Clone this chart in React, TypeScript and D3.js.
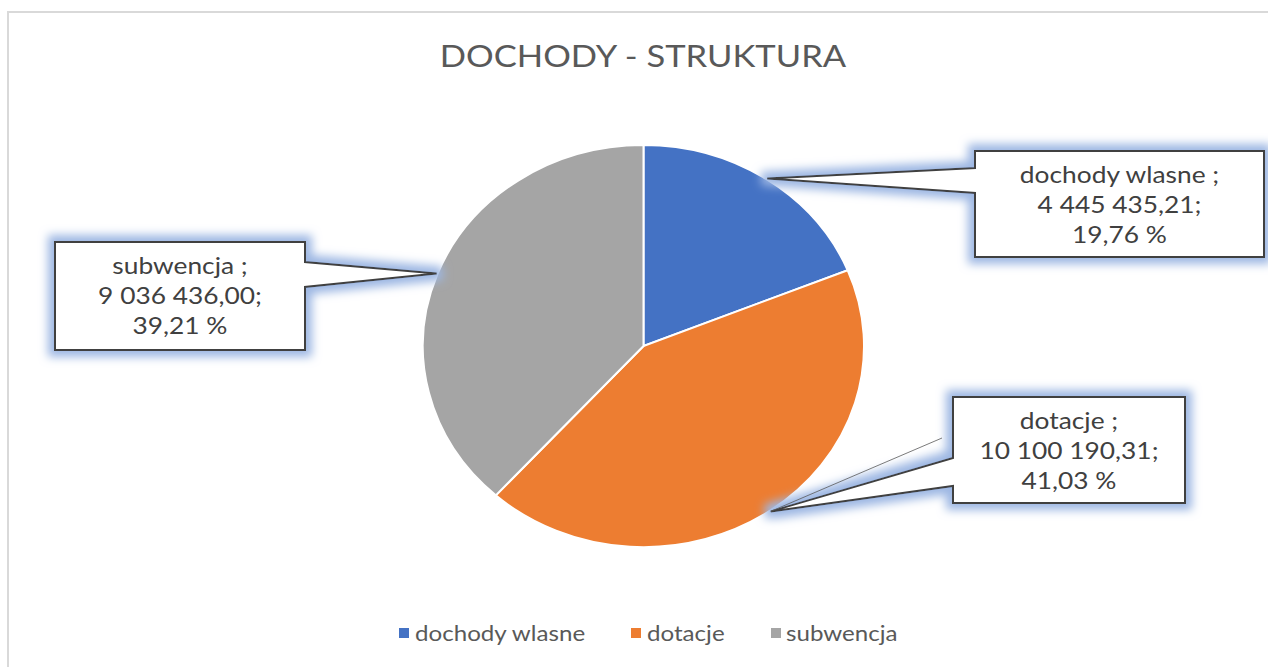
import React from "react";
import * as d3 from "d3";

const categories = ["dochody wlasne", "dotacje", "subwencja"];
const values = [4445435.21, 10100190.31, 9036436.0];
const percentLabels = [19.76, 41.03, 39.21];
const colors = ["#4472C4", "#ED7D31", "#A5A5A5"];
const title = "DOCHODY - STRUKTURA";

const W = 1268;
const H = 667;
const cx = 643.5;
const cy = 346;
const rx = 220.5;
const ry = 201;
const SX = 1.097; // horizontal stretch of the reference

// callout box layouts (index matches categories)
const boxes = [
  { x: 975, y: 151, w: 289, h: 106, side: "left", p1: 168, p2: 193 },
  { x: 953, y: 397, w: 232, h: 106, side: "left", p1: 458, p2: 486 },
  { x: 55, y: 242, w: 250, h: 108, side: "right", p1: 262, p2: 287 },
];

const pl = d3.formatLocale({ decimal: ",", thousands: " ", grouping: [3], currency: ["", ""] });
const fmtVal = pl.format(",.2f");
const fmtPct = pl.format(".2f");

const font = "Lato, 'Open Sans', sans-serif";

function SText(props: { x: number; y: number; size: number; fill: string; anchor?: string; children: any }) {
  return (
    <g transform={`translate(${props.x},${props.y}) scale(${SX},1)`}>
      <text x={0} y={0} textAnchor={props.anchor || "start"} fontFamily={font} fontSize={props.size} fill={props.fill}>
        {props.children}
      </text>
    </g>
  );
}

export default function App() {
  const pie = d3.pie<number>().sort(null).value((d) => d);
  const arcs = pie(values);
  const arc = d3.arc<d3.PieArcDatum<number>>().innerRadius(0).outerRadius(1);

  const legendItems = [
    { x: 399, tx: 415 },
    { x: 631, tx: 647 },
    { x: 771, tx: 786 },
  ];

  return (
    <svg width={W} height={H} style={{ position: "absolute", left: 0, top: 0, display: "block" }}>
      <defs>
        <filter id="glow" x="-20%" y="-40%" width="140%" height="180%">
          <feMorphology in="SourceAlpha" operator="dilate" radius="6" result="dil" />
          <feGaussianBlur in="dil" stdDeviation="5" result="blur" />
          <feFlood floodColor="#9DB7E3" floodOpacity="1" />
          <feComposite in2="blur" operator="in" result="glowc" />
          <feMerge>
            <feMergeNode in="glowc" />
            <feMergeNode in="SourceGraphic" />
          </feMerge>
        </filter>
      </defs>
      <rect x={0} y={0} width={W} height={H} fill="#fff" />
      <rect x={8} y={12} width={W + 20} height={H + 20} fill="#fff" stroke="#D9D9D9" strokeWidth={2} />
      <SText x={643} y={67} size={31.5} fill="#595959" anchor="middle">
        {title}
      </SText>
      <g transform={`translate(${cx},${cy}) scale(${rx},${ry})`}>
        {arcs.map((a, i) => (
          <path
            key={i}
            d={arc(a) || ""}
            fill={colors[i]}
            stroke="#fff"
            strokeWidth={2}
            vectorEffect="non-scaling-stroke"
          />
        ))}
      </g>
      {arcs.map((a, i) => {
        const mid = (a.startAngle + a.endAngle) / 2;
        const tx = cx + Math.sin(mid) * rx * 1.005;
        const ty = cy - Math.cos(mid) * ry * 1.005;
        const b = boxes[i];
        let d: string;
        if (b.side === "left") {
          d = `M${b.x},${b.y} H${b.x + b.w} V${b.y + b.h} H${b.x} V${b.p2} L${tx},${ty} L${b.x},${b.p1} Z`;
        } else {
          d = `M${b.x},${b.y} H${b.x + b.w} V${b.p1} L${tx},${ty} L${b.x + b.w},${b.p2} V${b.y + b.h} H${b.x} Z`;
        }
        const mx = b.x + b.w / 2;
        const lines = [
          `${categories[i]} ;`,
          `${fmtVal(values[i])};`,
          `${fmtPct(percentLabels[i])} %`,
        ];
        return (
          <g key={i}>
            <path d={d} fill="#fff" stroke="#404040" strokeWidth={2} filter="url(#glow)" strokeLinejoin="miter" />
            {i === 1 && (
              <line x1={b.x - 11} y1={b.p1 - 20} x2={tx} y2={ty} stroke="#595959" strokeWidth={0.8} />
            )}
            {lines.map((l, j) => (
              <SText key={j} x={mx} y={b.y + 32 + j * 30} size={24} fill="#404040" anchor="middle">
                {l}
              </SText>
            ))}
          </g>
        );
      })}
      {categories.map((c, i) => (
        <g key={c}>
          <rect x={legendItems[i].x} y={628} width={10} height={10} fill={colors[i]} />
          <SText x={legendItems[i].tx} y={641} size={22} fill="#595959">
            {c}
          </SText>
        </g>
      ))}
    </svg>
  );
}
